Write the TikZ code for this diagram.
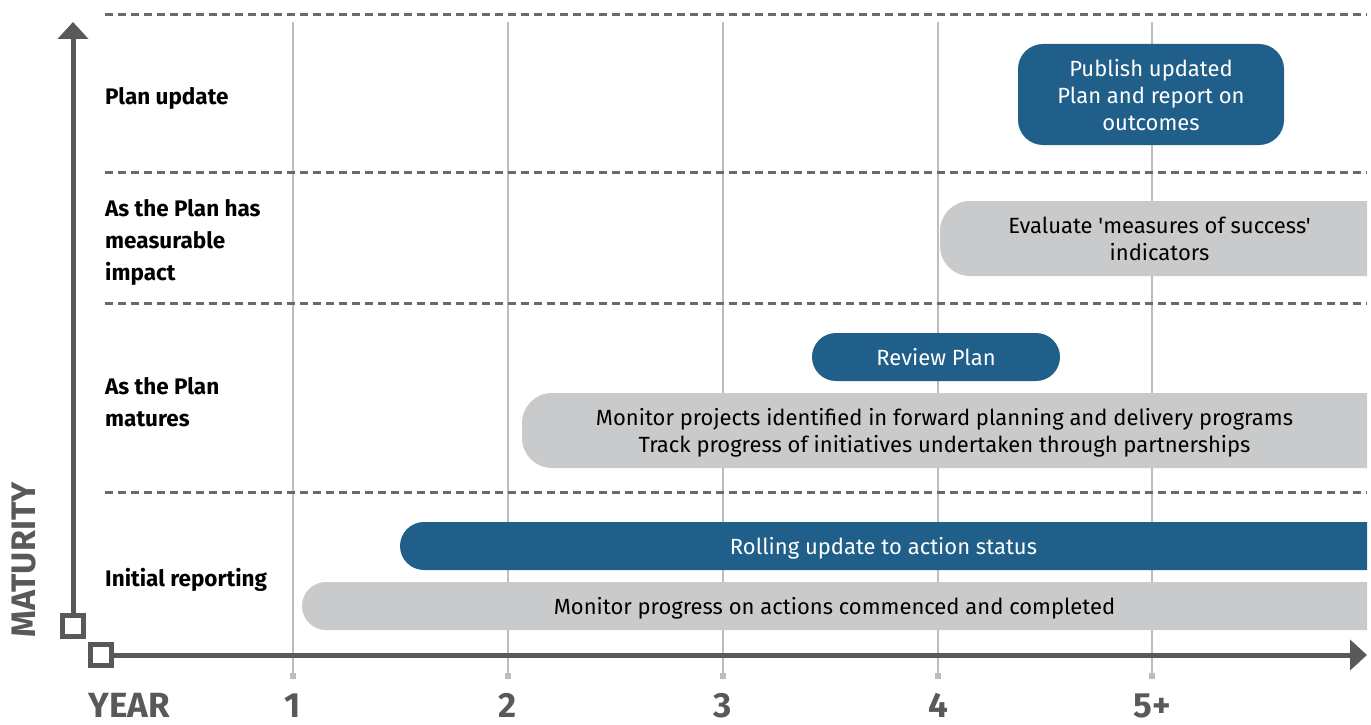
\documentclass[tikz,border=0pt]{standalone}
\usepackage{fontspec}
\setmainfont{Fira Sans}[Ligatures=TeXOff]
\usepackage{tikz}
\definecolor{planblue}{HTML}{1F5F8A}
\definecolor{bargray}{HTML}{C9CACC}
\definecolor{axisgray}{HTML}{58595B}
\definecolor{gridgray}{HTML}{BDBDBD}
\usetikzlibrary{arrows.meta}
\tikzstyle{rowlabel} = [anchor=west, align=left, inner sep=0pt, 
font=\fontsize{22.5}{32}\selectfont\bfseries]
\tikzstyle{bblock} = [rectangle, fill=planblue, text=white, align=center, 
inner sep=0pt, text depth=0pt, font=\fontsize{22}{27}\selectfont]
\tikzstyle{gbar} = [rectangle, align=center, inner sep=0pt, text depth=0pt, font=\fontsize{22}{27}\selectfont, 
path picture={\fill[bargray, rounded corners=24pt] (path picture bounding box.south west) rectangle ([xshift=40pt]path picture bounding box.north east);}]
\tikzstyle{gwide} = [rectangle, align=center, inner sep=0pt, text depth=0pt, font=\fontsize{22}{27}\selectfont, 
path picture={\fill[bargray, rounded corners=30pt] (path picture bounding box.south west) rectangle ([xshift=40pt]path picture bounding box.north east);}]
\tikzstyle{bbar} = [rectangle, align=center, inner sep=0pt, text depth=0pt, text=white, font=\fontsize{22}{27}\selectfont, 
path picture={\fill[planblue, rounded corners=24pt] (path picture bounding box.south west) rectangle ([xshift=40pt]path picture bounding box.north east);}]
\tikzstyle{yearlabel} = [anchor=base, text=axisgray, font=\fontsize{35}{40}\selectfont\bfseries]
\tikzstyle{sqbox} = [rectangle, draw=axisgray, line width=5pt, minimum size=21pt, inner sep=0pt]
\tikzstyle{axis} = [draw=axisgray, line width=5pt, -{Triangle[width=30pt,length=17pt]}]
\tikzstyle{dashline} = [draw=axisgray!90, line width=3pt, dash pattern=on 8pt off 5pt]

\begin{document}
\begin{tikzpicture}[x=1pt, y=-1pt]
    \useasboundingbox (0,0) rectangle (1371,725);
	\foreach \x/\yr [count=\i] in {293/1, 508/2, 723/3, 938/4, 1152/5+} {
		\draw [gridgray, line width=1.5pt] (\x,22) -- (\x,674);
		\fill [gridgray] (\x-3,673) rectangle (\x+3,679);
		\node (Year\i) [yearlabel] at (\x,717) {\yr};
	}
	\foreach \y in {15, 172, 303, 492}
		\draw [dashline] (105,\y) -- (1367,\y);

	\node (PlanUpdate) [rowlabel] at (105,98) {Plan update};
	\node (Impact) [rowlabel] at (105,242) {As the Plan has\\measurable\\impact};
	\node (Matures) [rowlabel] at (105,402) {As the Plan\\matures};
	\node (Initial) [rowlabel] at (105,580) {Initial reporting};

	\node (Publish) [bblock, rounded corners=25pt, minimum width=266pt, minimum height=101pt] at (1151,94.5) {Publish updated\\Plan and report on\\outcomes};
	\node (Evaluate) [gwide, minimum width=427pt, minimum height=75pt] at (1153.5,238.5) {\hspace*{12pt}Evaluate 'measures of success'\\\hspace*{12pt}indicators};
	\node (Review) [bblock, rounded corners=24pt, minimum width=248pt, minimum height=48pt] at (936,357) {Review Plan};
	\node (Projects) [gwide, minimum width=845pt, minimum height=75pt] at (944.5,430.5) {Monitor projects identified in forward planning and delivery programs\\Track progress of initiatives undertaken through partnerships};
	\node (Rolling) [bbar, minimum width=967pt, minimum height=48pt] at (883.5,546) {Rolling update to action status};
	\node (Progress) [gbar, minimum width=1065pt, minimum height=48pt] at (834.5,606) {Monitor progress on actions commenced and completed};

	\node (MatBox) [sqbox] at (73,626) {};
	\node (YearBox) [sqbox] at (101,655) {};
	\coordinate (MatTip) at (73,22);
	\coordinate (YearTip) at (1367,655);
	\draw [axis] (MatBox.north) -- (MatTip);
	\draw [axis] (YearBox.east) -- (YearTip);
	\node (Maturity) [rotate=90, anchor=base, text=axisgray, font=\fontsize{34}{40}\selectfont\bfseries] at (35,560) {MATURITY};
	\node (YearAxis) [yearlabel] at (129,717) {YEAR};
\end{tikzpicture}
\end{document}
